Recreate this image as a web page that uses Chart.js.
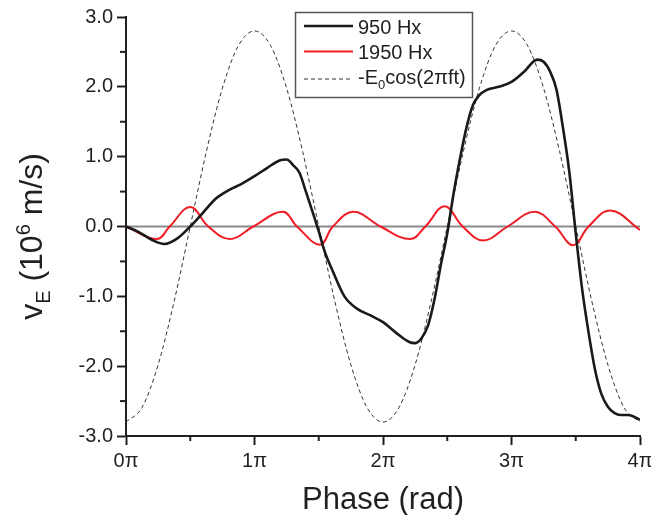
<!DOCTYPE html>
<html><head><meta charset="utf-8">
<script src="https://cdn.jsdelivr.net/npm/chart.js@4/dist/chart.umd.min.js"></script>
<style>html,body{margin:0;padding:0;background:#fff}#wrap{position:relative;width:651px;height:515px}</style>
</head><body><div id="wrap"><canvas id="c" width="651" height="515"></canvas></div>
<script>
// ---- data (phase in units of pi, velocity in 10^6 m/s) ----
const phase950 = [0,0.1,0.2,0.3,0.4,0.5,0.6,0.7,0.8,0.9,1.0,1.1,1.2,1.25,1.3,1.35,1.4,1.45,1.5,1.55,1.6,1.7,1.8,1.9,2.0,2.1,2.2,2.25,2.3,2.35,2.4,2.45,2.5,2.55,2.6,2.65,2.7,2.75,2.8,2.9,3.0,3.1,3.2,3.25,3.3,3.35,3.4,3.45,3.5,3.55,3.6,3.65,3.7,3.75,3.8,3.85,3.9,3.95,4.0];
const v950 = [0,-0.08,-0.19,-0.25,-0.17,0.0,0.2,0.4,0.52,0.61,0.72,0.84,0.95,0.96,0.88,0.77,0.5,0.22,-0.07,-0.38,-0.6,-1.0,-1.18,-1.27,-1.37,-1.52,-1.65,-1.67,-1.6,-1.42,-1.05,-0.55,-0.1,0.48,0.98,1.42,1.74,1.88,1.95,2.0,2.07,2.22,2.39,2.36,2.22,1.96,1.42,0.78,-0.1,-0.9,-1.52,-2.05,-2.4,-2.58,-2.67,-2.70,-2.70,-2.72,-2.77];

const phase1950 = [0,0.24,0.34,0.5,0.64,0.81,0.99,1.22,1.33,1.51,1.61,1.77,1.98,2.21,2.33,2.48,2.62,2.78,2.97,3.18,3.34,3.48,3.60,3.77,4.0];
const v1950 = [0,-0.18,0,0.28,0,-0.18,0,0.21,0,-0.26,0,0.21,0,-0.18,0,0.29,0,-0.20,0,0.21,0,-0.27,0,0.23,-0.05];

const phaseE = [0,0.125,0.25,0.375,0.5,0.625,0.75,0.875,1.0,1.125,1.25,1.375,1.5,1.625,1.75,1.875,2.0,2.125,2.25,2.375,2.5,2.625,2.75,2.875,3.0,3.125,3.25,3.375,3.5,3.625,3.75,3.875,4.0];
const vE = [-2.80,-2.59,-1.98,-1.07,0,1.07,1.98,2.59,2.80,2.59,1.98,1.07,0,-1.07,-1.98,-2.59,-2.80,-2.59,-1.98,-1.07,0,1.07,1.98,2.59,2.80,2.59,1.98,1.07,0,-1.07,-1.98,-2.59,-2.80];

const baseline = [0,4];
const baselineV = [0,0];

const seriesNames = ['950 Hx','1950 Hx','-E','0','cos(2\u03C0ft)'];
const xTicksMajor = [0,1,2,3,4];
const xMinor = [0.5,1.5,2.5,3.5];
const yMinor = [-2.5,-1.5,-0.5,0.5,1.5,2.5];
const xTitle = 'Phase (rad)';

const FONT = "'Liberation Sans', Arial, Helvetica, sans-serif";
const INK = '#231f20';
const pts = (xs, ys) => xs.map((x,i)=>({x, y: ys[i]}));

const minorTicks = {
  id:'minorTicks',
  afterDraw(chart){
    const {ctx, chartArea:a, scales:{x,y}} = chart;
    ctx.save(); ctx.strokeStyle=INK; ctx.lineWidth=2;
    xMinor.forEach(v=>{const p=x.getPixelForValue(v); ctx.beginPath(); ctx.moveTo(p,a.bottom); ctx.lineTo(p,a.bottom+5); ctx.stroke();});
    yMinor.forEach(v=>{const p=y.getPixelForValue(v); ctx.beginPath(); ctx.moveTo(a.left-6,p); ctx.lineTo(a.left,p); ctx.stroke();});
    ctx.restore();
  }
};

const titles = {
  id:'titles',
  afterDraw(chart){
    const {ctx, chartArea:a} = chart;
    ctx.save(); ctx.fillStyle=INK;
    ctx.font = `31px ${FONT}`; ctx.textAlign='center'; ctx.textBaseline='alphabetic';
    ctx.fillText(xTitle, (a.left+a.right)/2, 509);
    ctx.translate(42, (a.top+a.bottom)/2 + 10);
    ctx.rotate(-Math.PI/2);
    const parts = [['v',32,0],['E',20,8],[' (10',32,0],['6',20,-12],[' m/s)',32,0]];
    let total = 0;
    parts.forEach(p=>{ctx.font=`${p[1]}px ${FONT}`; total += ctx.measureText(p[0]).width;});
    let xx = -total/2;
    ctx.textAlign='left';
    parts.forEach(p=>{ctx.font=`${p[1]}px ${FONT}`; ctx.fillText(p[0], xx, p[2]); xx += ctx.measureText(p[0]).width;});
    ctx.restore();
  }
};

const legendBox = {
  id:'legendBox',
  afterDraw(chart){
    const {ctx} = chart;
    const ds = chart.data.datasets;
    ctx.save();
    ctx.fillStyle='#fff'; ctx.fillRect(295,12,177,85);
    ctx.strokeStyle='#555'; ctx.lineWidth=1.5; ctx.strokeRect(295.5,12.5,177,85);
    const rows = [[ds[3],26],[ds[2],51.5],[ds[1],79]];
    rows.forEach(([d,ly])=>{
      ctx.strokeStyle=d.borderColor; ctx.lineWidth=d.borderWidth; ctx.setLineDash(d.borderDash||[]);
      ctx.beginPath(); ctx.moveTo(304,ly); ctx.lineTo(353,ly); ctx.stroke();
    });
    ctx.setLineDash([]);
    ctx.fillStyle=INK; ctx.textAlign='left'; ctx.textBaseline='alphabetic';
    ctx.font=`20px ${FONT}`;
    ctx.fillText(seriesNames[0],358,33.5);
    ctx.fillText(seriesNames[1],358,58.5);
    let xx=358;
    ctx.fillText(seriesNames[2],xx,84); xx+=ctx.measureText(seriesNames[2]).width;
    ctx.font=`13px ${FONT}`; ctx.fillText(seriesNames[3],xx,89); xx+=ctx.measureText(seriesNames[3]).width;
    ctx.font=`20px ${FONT}`; ctx.fillText(seriesNames[4],xx,84);
    ctx.restore();
  }
};

new Chart(document.getElementById('c'), {
  type:'line',
  data:{datasets:[
    {label:'zero', data:pts(baseline,baselineV), borderColor:'#8a8a8a', borderWidth:2, pointRadius:0, order:4},
    {label:'-E0cos(2πft)', data:pts(phaseE,vE), borderColor:'#333', borderWidth:1, borderDash:[4,3], pointRadius:0, cubicInterpolationMode:'monotone', order:3},
    {label:'1950 Hx', data:pts(phase1950,v1950), borderColor:'#ee1c25', borderWidth:2, pointRadius:0, tension:0.4, order:2},
    {label:'950 Hx', data:pts(phase950,v950), borderColor:'#1a1a1a', borderWidth:2.6, pointRadius:0, cubicInterpolationMode:'monotone', order:1}
  ]},
  options:{
    responsive:false, animation:false,
    layout:{padding:{left:0,right:11,top:17,bottom:0}},
    plugins:{legend:{display:false}, tooltip:{enabled:false}},
    scales:{
      x:{type:'linear', min:0, max:4,
        afterBuildTicks: s => { s.ticks = xTicksMajor.map(v=>({value:v})); },
        ticks:{callback:v=>v+'\u03C0', font:{size:20, family:FONT}, color:INK, padding:4, maxRotation:0},
        grid:{drawOnChartArea:false, drawTicks:true, tickLength:9, tickColor:INK, tickWidth:2},
        border:{color:INK, width:2},
        afterFit: s => { s.height = 79; s.paddingLeft = 0; s.paddingRight = 0; }
      },
      y:{type:'linear', min:-3, max:3,
        ticks:{stepSize:1, callback:v=>v.toFixed(1), font:{size:20, family:FONT}, color:INK, padding:4},
        grid:{drawOnChartArea:false, drawTicks:true, tickLength:9, tickColor:INK, tickWidth:2},
        border:{color:INK, width:2},
        afterFit: s => { s.width = 126; s.paddingTop = 0; s.paddingBottom = 0; }
      }
    }
  },
  plugins:[minorTicks, titles, legendBox]
});
</script></body></html>
